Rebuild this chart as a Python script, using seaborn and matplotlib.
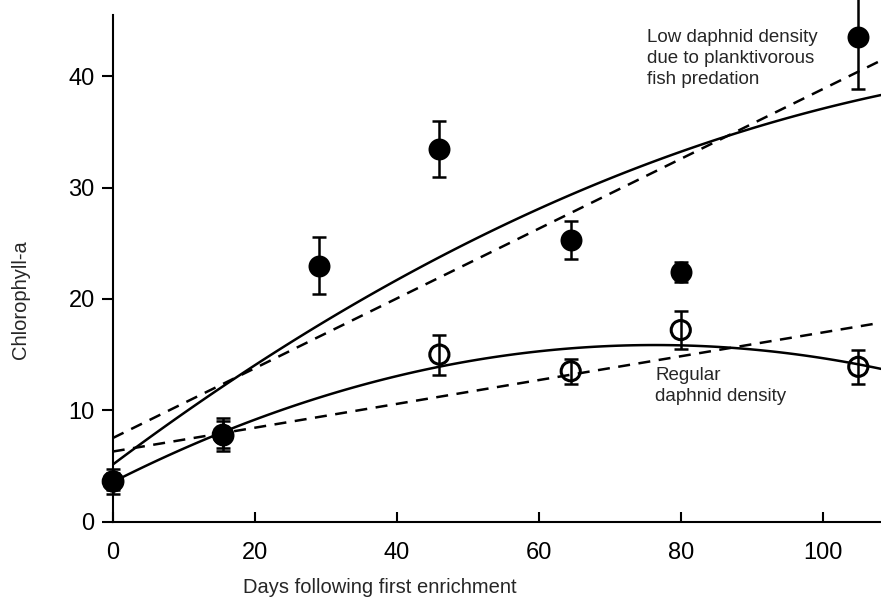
import matplotlib
matplotlib.use('Agg')
import matplotlib.pyplot as plt
import numpy as np
import pandas as pd
import seaborn as sb

# low daphnid density (filled circles)
days_low = [0, 15.5, 29, 46, 64.5, 80, 105]
chl_low = [3.6, 7.8, 23.0, 33.5, 25.3, 22.4, 43.5]
err_low = [1.1, 1.5, 2.6, 2.5, 1.7, 0.9, 4.6]

# regular daphnid density (open circles, first two hidden under the filled ones)
days_reg = [0, 15.5, 46, 64.5, 80, 105]
chl_reg = [3.6, 7.8, 15.0, 13.5, 17.2, 13.9]
err_reg = [0.8, 1.2, 1.8, 1.1, 1.7, 1.5]

xticks = [0, 20, 40, 60, 80, 100]
yticks = [0, 10, 20, 30, 40]

low_df = pd.DataFrame({'day': days_low, 'chl': chl_low, 'err': err_low})
reg_df = pd.DataFrame({'day': days_reg, 'chl': chl_reg, 'err': err_reg})

sb.set_style('ticks')
plt.rcParams['font.family'] = ['Liberation Sans', 'DejaVu Sans']

fig = plt.figure(figsize=(8.81, 6.05), dpi=100)
ax = fig.add_axes([0.128, 0.138, 0.872, 0.837])
ax.set_xlim(0, 108.2)
ax.set_ylim(0, 45.5)

# fitted curves: quadratic (solid) and linear (dashed)
line_solid = dict(color='black', lw=1.8)
line_dash = dict(color='black', lw=1.8, linestyle=(0, (4.8, 3.4)))
for df in [low_df, reg_df]:
    sb.regplot(data=df, x='day', y='chl', order=2, ci=None, scatter=False,
               truncate=False, line_kws=line_solid, ax=ax)
    sb.regplot(data=df, x='day', y='chl', order=1, ci=None, scatter=False,
               truncate=False, line_kws=line_dash, ax=ax)

# error bars
for df in [reg_df, low_df]:
    ax.errorbar(df['day'], df['chl'], yerr=df['err'], fmt='none', ecolor='black',
                elinewidth=1.8, capsize=5, capthick=1.8, clip_on=False, zorder=3)

# points
sb.scatterplot(data=reg_df, x='day', y='chl', s=190, marker='o', facecolor='none',
               edgecolor='black', linewidth=2.2, clip_on=False, zorder=4, ax=ax)
sb.scatterplot(data=low_df, x='day', y='chl', s=250, marker='o', color='black',
               edgecolor='black', linewidth=0, clip_on=False, zorder=5, ax=ax)

ax.set_xlim(0, 108.2)
ax.set_ylim(0, 45.5)
ax.set_xticks(xticks)
ax.set_yticks(yticks)

sb.despine(ax=ax)
for s in ['left', 'bottom']:
    ax.spines[s].set_linewidth(1.5)
    ax.spines[s].set_color('black')
ax.tick_params(axis='y', direction='out', length=8, width=1.5, pad=5, labelsize=17, colors='black')
ax.tick_params(axis='x', direction='in', length=7, width=1.5, pad=15, labelsize=17, colors='black')

ax.set_xlabel('Days following first enrichment', fontsize=14.5)
ax.set_ylabel('Chlorophyll-a', fontsize=14.5)
ax.xaxis.set_label_coords(0.348, -0.112)
ax.yaxis.set_label_coords(-0.108, 0.4375)

ax.text(0.695, 0.972, 'Low daphnid density\ndue to planktivorous\nfish predation',
        transform=ax.transAxes, fontsize=13.5, va='top', ha='left', linespacing=1.3)
ax.text(0.706, 0.305, 'Regular\ndaphnid density',
        transform=ax.transAxes, fontsize=13.5, va='top', ha='left', linespacing=1.3)

plt.savefig('out.png', dpi=100)
